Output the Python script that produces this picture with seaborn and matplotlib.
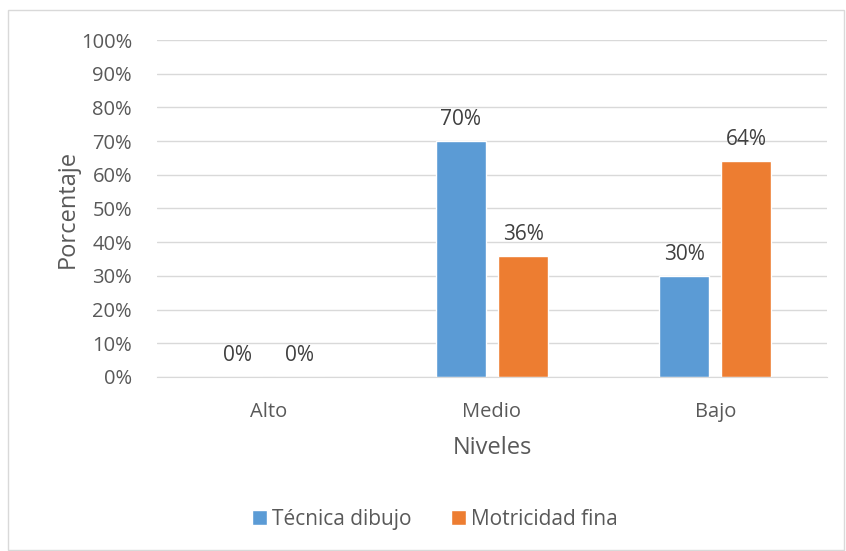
import pandas as pd
import matplotlib.pyplot as plt
import matplotlib.patches as patches
import seaborn as sns

niveles = ['Alto', 'Medio', 'Bajo']
tecnica_dibujo = [0, 70, 30]
motricidad_fina = [0, 36, 64]
series = ['Técnica dibujo', 'Motricidad fina']
colores = ['#5B9BD5', '#ED7D31']
gris = '#595959'

df = pd.DataFrame({
    'Niveles': niveles * 2,
    'valor': tecnica_dibujo + motricidad_fina,
    'serie': [series[0]] * 3 + [series[1]] * 3,
})

sns.set_style('white')
plt.rcParams['font.family'] = ['Open Sans', 'DejaVu Sans']

fig = plt.figure(figsize=(8.46, 5.51), dpi=100)
ax = fig.add_axes([0.1856, 0.3158, 0.7919, 0.6116])

sns.barplot(data=df, x='Niveles', y='valor', hue='serie', palette=colores,
            width=0.556, gap=0.19, ax=ax, legend=True, saturation=1)

ax.set_ylim(0, 100)
ax.set_xlim(-0.5, 2.5)
ax.set_yticks(range(0, 101, 10))
ax.set_yticklabels([f'{v}%' for v in range(0, 101, 10)])
ax.yaxis.grid(True, color='#D9D9D9', linewidth=1)
ax.set_axisbelow(True)
for s in ['top', 'right', 'left']:
    ax.spines[s].set_visible(False)
ax.spines['bottom'].set_color('#D9D9D9')
ax.tick_params(axis='both', length=0, labelsize=14.5, colors=gris)
ax.tick_params(axis='y', pad=18)
ax.tick_params(axis='x', pad=18)

for cont in ax.containers:
    ax.bar_label(cont, labels=[f'{v:.0f}%' for v in cont.datavalues],
                 padding=8, fontsize=15, color='#404040')

ax.set_ylabel('Porcentaje', fontsize=17, color=gris, labelpad=1)
ax.set_xlabel('Niveles', fontsize=17, color=gris, labelpad=10)

ax.legend(loc='upper center', bbox_to_anchor=(0.415, -0.335), ncol=2,
          frameon=False, fontsize=15, labelcolor=gris, handlelength=0.7,
          handleheight=0.7, handletextpad=0.25, columnspacing=1.9)

fig.patches.append(patches.Rectangle((8 / 846, 0.002), 836 / 846, 1 - 10 / 551 - 0.002,
                                     transform=fig.transFigure, fill=False,
                                     edgecolor='#D9D9D9', linewidth=1))

fig.savefig('out.png', dpi=100)
